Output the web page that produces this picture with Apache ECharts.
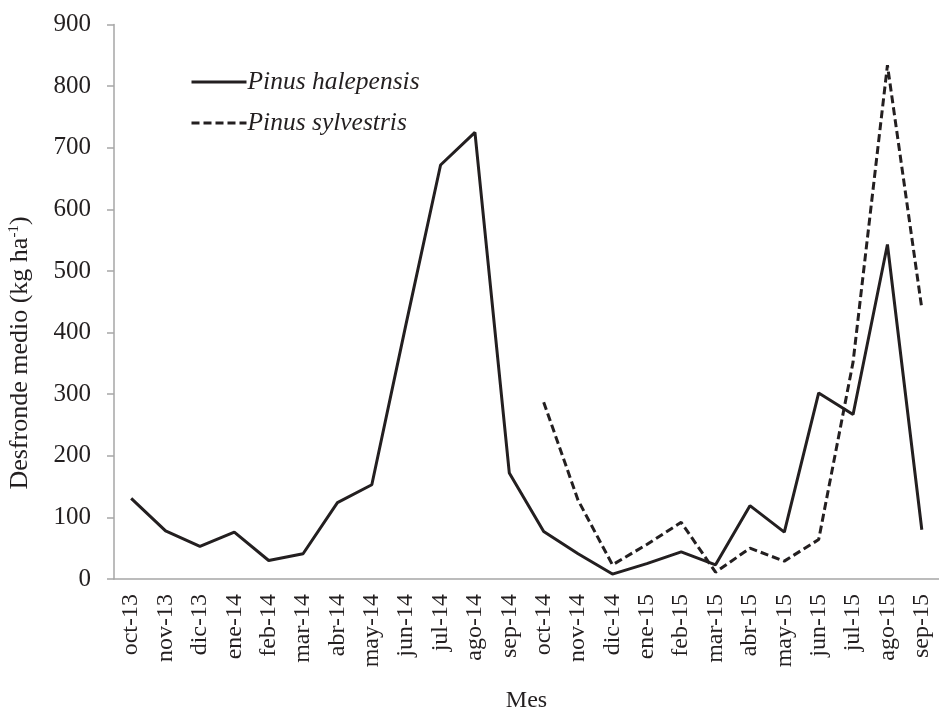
<!DOCTYPE html>
<html>
<head>
<meta charset="utf-8">
<script src="https://cdn.jsdelivr.net/npm/echarts@6/dist/echarts.min.js"></script>
<style>
html,body{margin:0;padding:0;background:#fff;}
#chart{width:939px;height:718px;}
</style>
</head>
<body>
<div id="chart"></div>
<script>
const months = ['oct-13','nov-13','dic-13','ene-14','feb-14','mar-14','abr-14','may-14','jun-14','jul-14','ago-14','sep-14',
  'oct-14','nov-14','dic-14','ene-15','feb-15','mar-15','abr-15','may-15','jun-15','jul-15','ago-15','sep-15'];
const halepensis = [131, 78, 53, 76, 30, 41, 124, 153, 415, 672, 725, 172,
  77, 41, 8, 25, 44, 23, 119, 76, 302, 267, 543, 80];
const sylvestris = [null, null, null, null, null, null, null, null, null, null, null, null,
  287, 128, 23, 56, 92, 11, 50, 29, 64, 352, 834, 439];
const yTicks = [0, 900, 100];
const seriesNames = ['Pinus halepensis', 'Pinus sylvestris'];

const textColor = '#231f20';
const font = "'Liberation Serif', 'Times New Roman', serif";
const chart = echarts.init(document.getElementById('chart'), null, {renderer: 'canvas'});
chart.setOption({
  backgroundColor: '#ffffff',
  animation: false,
  grid: {left: 114, top: 24.5, width: 828, height: 573.2},
  legend: {
    orient: 'vertical', left: 185, top: 64, itemWidth: 55, itemHeight: 14, itemGap: 15,
    itemStyle: {color: 'rgba(0,0,0,0)', borderColor: 'rgba(0,0,0,0)', borderWidth: 0, opacity: 0},
    lineStyle: {width: 3},
    textStyle: {fontFamily: font, fontSize: 25.5, fontStyle: 'italic', color: textColor, padding: [0,0,0,-4]},
    data: seriesNames
  },
  xAxis: {
    type: 'category', data: months, boundaryGap: true,
    axisLine: {lineStyle: {color: '#a6a6a6', width: 1.5}},
    axisTick: {show: false},
    axisLabel: {rotate: 90, margin: 15, fontFamily: font, fontSize: 24, color: textColor, interval: 0},
    name: 'Mes', nameLocation: 'middle', nameGap: 110,
    nameTextStyle: {fontFamily: font, fontSize: 24, color: textColor}
  },
  yAxis: {
    type: 'value', min: yTicks[0], max: yTicks[1], interval: yTicks[2],
    splitLine: {show: false},
    axisLine: {show: true, lineStyle: {color: '#a6a6a6', width: 1.5}},
    axisTick: {show: true, length: 7, lineStyle: {color: '#a6a6a6', width: 1.5}},
    axisLabel: {margin: 23, fontFamily: font, fontSize: 25, color: textColor}
  },
  graphic: [{
    type: 'text', x: 20, y: 353, rotation: Math.PI / 2,
    style: {
      text: '{m|Desfronde medio (kg ha}{s|-1}{m|)}',
      rich: {
        m: {fontFamily: font, fontSize: 26, fill: textColor},
        s: {fontFamily: font, fontSize: 15, fill: textColor, verticalAlign: 'top', padding: [0,0,8,0]}
      },
      align: 'center', verticalAlign: 'middle'
    }
  }],
  series: [
    {
      name: seriesNames[0], type: 'line', data: halepensis, symbol: 'none',
      lineStyle: {color: '#231f20', width: 3}, itemStyle: {color: '#231f20'}
    },
    {
      name: seriesNames[1], type: 'line', data: sylvestris, symbol: 'none',
      lineStyle: {color: '#231f20', width: 3, type: [8, 4]}, itemStyle: {color: '#231f20'}
    }
  ]
});
</script>
</body>
</html>
